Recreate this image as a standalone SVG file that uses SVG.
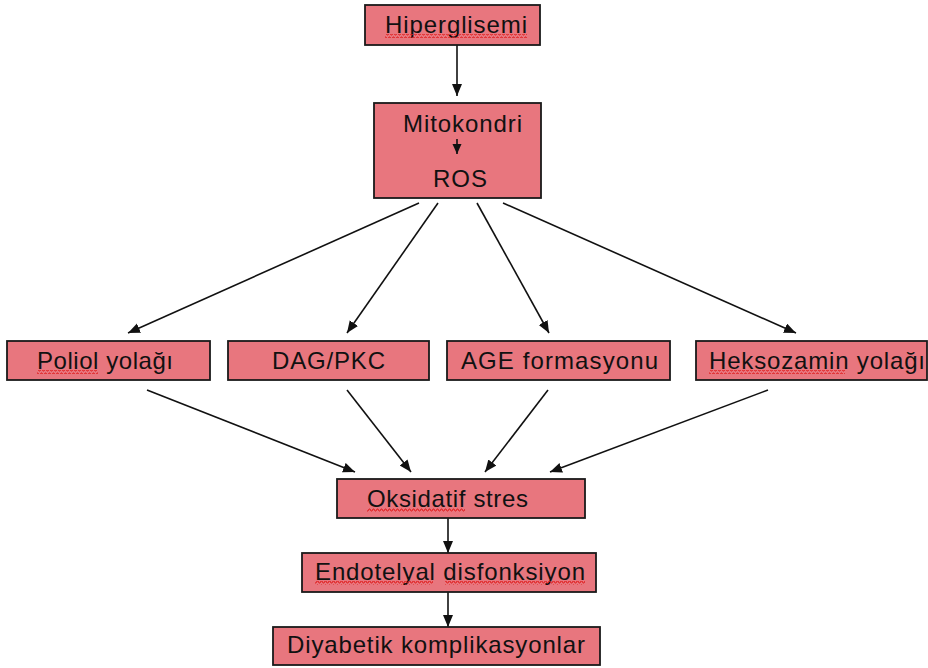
<svg xmlns="http://www.w3.org/2000/svg" width="928" height="668" viewBox="0 0 928 668">
<defs>
<marker id="ah" markerUnits="userSpaceOnUse" markerWidth="13" markerHeight="11" refX="12" refY="5" orient="auto">
<path d="M0,0 L12,5 L0,10 z" fill="#111"/>
</marker>
<marker id="ahs" markerUnits="userSpaceOnUse" markerWidth="11" markerHeight="10" refX="10" refY="4.5" orient="auto">
<path d="M0,0 L10,4.5 L0,9 z" fill="#111"/>
</marker>
<pattern id="wavy" patternUnits="userSpaceOnUse" width="4" height="4">
<path d="M0,3 L1,1 L2,1 L3,3 L4,3" fill="none" stroke="#e02020" stroke-width="1"/>
</pattern>
</defs>
<style>
.box{fill:#E8767E;stroke:#1a1a1a;stroke-width:1.8}
.t{font-family:"Liberation Sans",Arial,sans-serif;font-size:24px;fill:#111}
.c{stroke:#111;stroke-width:1.6;fill:none;marker-end:url(#ah)}
.cs{stroke:#111;stroke-width:1.6;fill:none;marker-end:url(#ahs)}
.sq{fill:url(#wavy)}
</style>
<rect width="928" height="668" fill="#fff"/>
<g id="connectors">
<line class="c" x1="457" y1="45" x2="457" y2="96"/>
<line class="c" x1="419" y1="203" x2="128" y2="333"/>
<line class="c" x1="438" y1="203" x2="347" y2="333"/>
<line class="c" x1="477" y1="203" x2="549" y2="333"/>
<line class="c" x1="503" y1="203" x2="796" y2="333"/>
<line class="c" x1="147" y1="390" x2="355" y2="472"/>
<line class="c" x1="347" y1="390" x2="411" y2="472"/>
<line class="c" x1="548" y1="390" x2="485" y2="472"/>
<line class="c" x1="768" y1="390" x2="550" y2="472"/>
<line class="c" x1="448" y1="518" x2="448" y2="553"/>
<line class="c" x1="448" y1="592" x2="448" y2="627"/>
</g>
<g id="hiperglisemi">
<rect class="box" x="365" y="5" width="175" height="40"/>
<text class="t" x="385" y="33" textLength="142" lengthAdjust="spacing">Hiperglisemi</text>
<rect class="sq" x="385" y="34" width="142" height="4"/>
</g>
<g id="mitokondri-ros">
<rect class="box" x="374" y="103" width="167" height="95"/>
<text class="t" x="403" y="132" textLength="119" lengthAdjust="spacing">Mitokondri</text>
<line class="cs" x1="457" y1="139" x2="457" y2="154"/>
<text class="t" x="433" y="187" textLength="54" lengthAdjust="spacing">ROS</text>
</g>
<g id="poliol">
<rect class="box" x="7" y="341" width="203" height="39"/>
<text class="t" x="37" y="369" textLength="136" lengthAdjust="spacing">Poliol yolağı</text>
<rect class="sq" x="37" y="370" width="61" height="4"/>
</g>
<g id="dagpkc">
<rect class="box" x="228" y="341" width="201" height="39"/>
<text class="t" x="272" y="369" textLength="113" lengthAdjust="spacing">DAG/PKC</text>
</g>
<g id="age">
<rect class="box" x="447" y="341" width="223" height="39"/>
<text class="t" x="461" y="369" textLength="197" lengthAdjust="spacing">AGE formasyonu</text>
</g>
<g id="heksozamin">
<rect class="box" x="696" y="341" width="231" height="39"/>
<text class="t" x="709" y="369" textLength="216" lengthAdjust="spacing">Heksozamin yolağı</text>
<rect class="sq" x="709" y="370" width="136" height="4"/>
</g>
<g id="oksidatif">
<rect class="box" x="337" y="479" width="248" height="39"/>
<text class="t" x="367" y="507" textLength="161" lengthAdjust="spacing">Oksidatif stres</text>
<rect class="sq" x="367" y="508" width="98" height="4"/>
</g>
<g id="endotelyal">
<rect class="box" x="302" y="553" width="294" height="39"/>
<text class="t" x="315" y="580" textLength="270" lengthAdjust="spacing">Endotelyal disfonksiyon</text>
<rect class="sq" x="315" y="581" width="118" height="4"/>
<rect class="sq" x="445" y="581" width="140" height="4"/>
</g>
<g id="diyabetik">
<rect class="box" x="273" y="627" width="327" height="38"/>
<text class="t" x="287" y="653" textLength="298" lengthAdjust="spacing">Diyabetik komplikasyonlar</text>
</g>
</svg>
